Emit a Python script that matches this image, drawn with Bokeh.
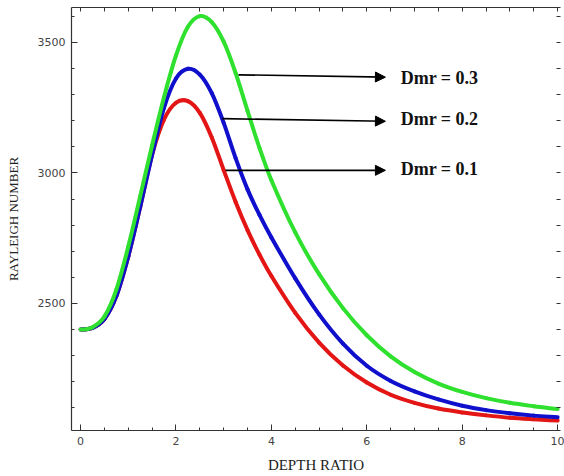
import numpy as np
from bokeh.plotting import figure
from bokeh.models import LinearAxis, SingleIntervalTicker, FixedTicker, Arrow, NormalHead, Label
from bokeh.embed import file_html
from bokeh.resources import INLINE

depth = [0, 0.25, 0.5, 0.75, 1.0, 1.25, 1.5, 1.75, 2.0, 2.25, 2.5, 2.75, 3.0, 3.25, 3.5, 3.75, 4.0,
         4.5, 5.0, 5.5, 6.0, 6.5, 7.0, 7.5, 8.0, 8.5, 9.0, 9.5, 10.0]

ra_dmr_01 = [2400, 2406, 2440, 2528, 2680, 2870, 3070, 3205, 3269, 3275, 3230, 3136, 3011, 2889, 2781, 2687, 2605,
             2464, 2350, 2262, 2197, 2150, 2119, 2097, 2082, 2071, 2062, 2056, 2051]
ra_dmr_02 = [2400, 2406, 2440, 2528, 2680, 2870, 3070, 3250, 3362, 3399, 3377, 3306, 3192, 3057, 2937, 2839, 2753,
             2596, 2458, 2346, 2261, 2203, 2163, 2132, 2108, 2091, 2079, 2070, 2064]
ra_dmr_03 = [2400, 2409, 2450, 2553, 2718, 2911, 3106, 3291, 3450, 3560, 3601, 3578, 3503, 3383, 3238, 3096, 2972,
             2772, 2612, 2482, 2378, 2297, 2237, 2193, 2161, 2137, 2119, 2106, 2095]

series_labels = ["Dmr = 0.1", "Dmr = 0.2", "Dmr = 0.3"]
series_colors = ["#e31515", "#1010cc", "#2fe02f"]

# annotation arrows and label anchors (data units)
arrow_x_start = [3.04, 2.97, 3.31]
arrow_y_start = [3010, 3208, 3376]
arrow_x_end = [6.39, 6.39, 6.39]
arrow_y_end = [3010, 3198, 3367]
label_x = [6.71, 6.71, 6.71]
label_y = [3015, 3208, 3363]

# tick positions for the unlabeled top and right frame edges
top_ticks = [0.5 * i for i in range(21)]
right_ticks = [2100 + 100 * i for i in range(16)]

p = figure(width=564, height=476, x_range=(-0.19, 10.06), y_range=(2013, 3634),
           output_backend="svg", toolbar_location=None,
           min_border_left=71, min_border_right=4, min_border_top=7, min_border_bottom=46)
p.background_fill_color = "white"
p.border_fill_color = "white"
p.outline_line_color = None
p.xgrid.visible = False
p.ygrid.visible = False

axis_col = "#333333"

def style_axis(ax):
    ax.axis_line_color = axis_col
    ax.axis_line_width = 1.2
    ax.major_tick_line_color = axis_col
    ax.minor_tick_line_color = axis_col
    ax.major_tick_in = 6
    ax.major_tick_out = 0
    ax.minor_tick_in = 3
    ax.minor_tick_out = 0
    ax.major_label_text_font = "DejaVu Sans"
    ax.major_label_text_font_size = "11px"
    ax.major_label_text_color = "#444444"

xb = p.xaxis[0]
xb.ticker = SingleIntervalTicker(interval=2, num_minor_ticks=4)
style_axis(xb)
xb.major_label_standoff = 6
xb.axis_label = "DEPTH RATIO"
xb.axis_label_text_font = "Liberation Serif"
xb.axis_label_text_font_style = "normal"
xb.axis_label_text_font_size = "15px"
xb.axis_label_text_color = "#222222"
xb.axis_label_standoff = 9

yl = p.yaxis[0]
yl.ticker = SingleIntervalTicker(interval=500, num_minor_ticks=5)
style_axis(yl)
yl.major_label_standoff = 6
yl.axis_label = "RAYLEIGH NUMBER"
yl.axis_label_text_font = "Liberation Serif"
yl.axis_label_text_font_style = "normal"
yl.axis_label_text_font_size = "13px"
yl.axis_label_text_color = "#222222"
yl.axis_label_standoff = 14

xt = LinearAxis(ticker=FixedTicker(ticks=[], minor_ticks=top_ticks))
style_axis(xt)
xt.minor_tick_in = 4
xt.major_label_standoff = 0
p.add_layout(xt, "above")

yr = LinearAxis(ticker=FixedTicker(ticks=[], minor_ticks=right_ticks))
style_axis(yr)
yr.minor_tick_in = 4
yr.major_label_standoff = 0
yr.axis_line_color = None
p.add_layout(yr, "right")


def smooth_segments(xs, ys):
    """Cubic Hermite pieces through the read points, drawn with Bokeh's bezier glyph."""
    x = np.asarray(xs, float)
    y = np.asarray(ys, float)
    n = len(x)
    m = np.zeros(n)
    m[1:-1] = (y[2:] - y[:-2]) / (x[2:] - x[:-2])
    m[0] = 0.0
    m[-1] = (y[-1] - y[-2]) / (x[-1] - x[-2])
    h = x[1:] - x[:-1]
    return dict(x0=x[:-1], y0=y[:-1], x1=x[1:], y1=y[1:],
                cx0=x[:-1] + h / 3, cy0=y[:-1] + m[:-1] * h / 3,
                cx1=x[1:] - h / 3, cy1=y[1:] - m[1:] * h / 3)


for ys, col in zip([ra_dmr_01, ra_dmr_02, ra_dmr_03], series_colors):
    seg = smooth_segments(depth, ys)
    p.bezier(line_color=col, line_width=4, line_cap="round", **seg)

for i in range(3):
    p.add_layout(Arrow(end=NormalHead(size=10, fill_color="black", line_color="black"),
                       x_start=arrow_x_start[i], y_start=arrow_y_start[i],
                       x_end=arrow_x_end[i], y_end=arrow_y_end[i],
                       line_color="black", line_width=1.6))
    p.add_layout(Label(x=label_x[i], y=label_y[i], text=series_labels[i],
                       text_font="Liberation Serif", text_font_style="bold",
                       text_font_size="18px", text_color="#111111",
                       text_baseline="middle", text_align="left"))

open("out.html", "w").write(file_html(p, INLINE))
